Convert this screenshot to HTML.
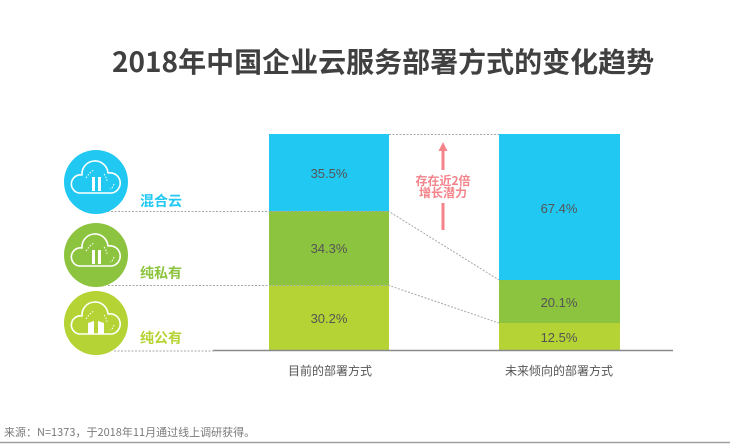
<!DOCTYPE html>
<html><head><meta charset="utf-8">
<style>
html,body{margin:0;padding:0;background:#fff;}
body{width:730px;height:446px;overflow:hidden;position:relative;font-family:"Liberation Sans","Noto Sans CJK SC",sans-serif;}
svg{position:absolute;left:0;top:0;}
</style></head>
<body>
<svg width="730" height="446" viewBox="0 0 730 446" xmlns="http://www.w3.org/2000/svg" font-family="'Liberation Sans','Noto Sans CJK SC',sans-serif">
  <!-- title -->
  <text x="112" y="72" font-size="28" font-weight="bold" fill="#404040" font-family="'Noto Sans CJK SC',sans-serif">2018年中国企业云服务部署方式的变化趋势</text>

  <!-- left bar -->
  <rect x="269" y="134" width="120" height="77" fill="#20c8f2"/>
  <rect x="269" y="211" width="120" height="74" fill="#8dc43f"/>
  <rect x="269" y="285" width="120" height="65" fill="#b5d334"/>
  <!-- right bar -->
  <rect x="499" y="134" width="121" height="146" fill="#20c8f2"/>
  <rect x="499" y="280" width="121" height="43" fill="#8dc43f"/>
  <rect x="499" y="323" width="121" height="27" fill="#b5d334"/>

  <!-- dotted lines -->
  <g stroke="#a8a8a8" stroke-width="1" stroke-dasharray="2,1.5" fill="none">
    <line x1="389" y1="134.5" x2="499" y2="134.5"/>
    <polyline points="104,211.5 389,211.5 499,280"/>
    <polyline points="108,285.5 389,285.5 499,323"/>
    <line x1="114" y1="351" x2="213" y2="351"/>
  </g>
  <!-- axis -->
  <line x1="213" y1="350.5" x2="673" y2="350.5" stroke="#8a8a8a" stroke-width="1.5"/>

  <!-- percentages -->
  <g font-size="13" fill="#555" text-anchor="middle">
    <text x="329" y="178">35.5%</text>
    <text x="329" y="253">34.3%</text>
    <text x="329" y="323">30.2%</text>
    <text x="559" y="213">67.4%</text>
    <text x="559" y="307">20.1%</text>
    <text x="559" y="342">12.5%</text>
  </g>

  <!-- category labels -->
  <g font-size="12" fill="#555" text-anchor="middle" font-family="'Noto Sans CJK SC',sans-serif">
    <text x="330" y="375">目前的部署方式</text>
    <text x="559" y="375">未来倾向的部署方式</text>
  </g>

  <!-- arrow -->
  <g fill="#f4838a" stroke="none">
    <polygon points="443,142 438.5,151 447.5,151"/>
    <rect x="441.5" y="150" width="3" height="20"/>
    <rect x="441.5" y="203" width="3" height="27"/>
  </g>
  <g font-size="12" font-weight="bold" fill="#f4838a" text-anchor="middle" font-family="'Noto Sans CJK SC',sans-serif">
    <text x="443" y="185">存在近2倍</text>
    <text x="443" y="197">增长潜力</text>
  </g>

  <!-- icons -->
  <defs>
    <g id="cloud">
      <path d="M -17,11 A 9,9 0 0 1 -14,-7 A 13,13 0 0 1 12,-9 A 10,10 0 0 1 16,11 Z" fill="none" stroke="#fff" stroke-width="1.6" stroke-linejoin="round"/>
      <path d="M -10,-4 Q -6,-10 -2,-12" fill="none" stroke="#fff" stroke-width="1" stroke-dasharray="1.5,1.5"/>
      <path d="M 8,-8 Q 11,-4 11,0" fill="none" stroke="#fff" stroke-width="1" stroke-dasharray="1.5,1.5"/>
      <path d="M 18,2 Q 17,6 14,7" fill="none" stroke="#fff" stroke-width="1" stroke-dasharray="1.5,1.5"/>
    </g>
  </defs>
  <g transform="translate(96,182)">
    <circle r="32" fill="#20c8f2"/>
    <use href="#cloud"/>
    <rect x="-4" y="-5" width="3" height="14" fill="#fff"/>
    <rect x="2" y="-5" width="3" height="14" fill="#fff"/>
  </g>
  <g transform="translate(96,255)">
    <circle r="32" fill="#8dc43f"/>
    <use href="#cloud"/>
    <rect x="-4" y="-5" width="3" height="14" fill="#fff"/>
    <rect x="2" y="-5" width="3" height="14" fill="#fff"/>
  </g>
  <g transform="translate(96,323)">
    <circle r="32" fill="#b5d334"/>
    <use href="#cloud"/>
    <path d="M -8,0 L -2,-2 L -2,11 L -8,11 Z" fill="#fff"/>
    <path d="M 2,-2 L 8,0 L 8,11 L 2,11 Z" fill="#fff"/>
  </g>

  <!-- side labels -->
  <g font-size="14" font-weight="bold" font-family="'Noto Sans CJK SC',sans-serif">
    <text x="140" y="206" fill="#20c8f2">混合云</text>
    <text x="140" y="278" fill="#8dc43f">纯私有</text>
    <text x="140" y="343" fill="#b5d334">纯公有</text>
  </g>

  <!-- footer -->
  <text x="4" y="436" font-size="11" fill="#7a7a7a" font-family="'Noto Sans CJK SC',sans-serif">来源：N=1373，于2018年11月通过线上调研获得。</text>
  <line x1="0" y1="442.5" x2="730" y2="442.5" stroke="#a0a0a0" stroke-width="1.5"/>
</svg>
</body></html>
